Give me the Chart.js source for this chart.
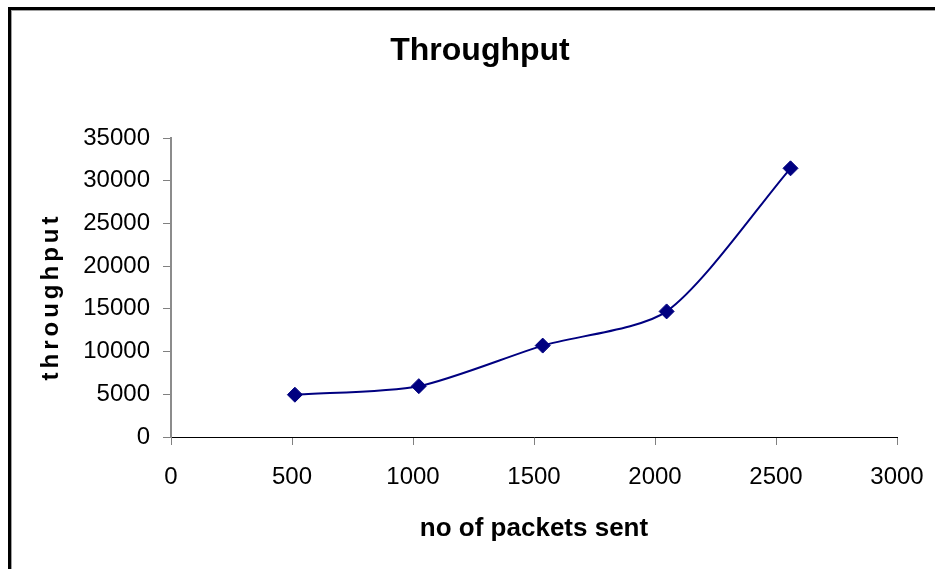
<!DOCTYPE html>
<html><head><meta charset="utf-8">
<script src="https://cdn.jsdelivr.net/npm/chart.js@4.4.1/dist/chart.umd.min.js"></script>
<style>
html,body{margin:0;padding:0;background:#fff;}
#wrap{position:relative;width:935px;height:569px;overflow:hidden;background:#fff;}
#frame{position:absolute;left:8px;top:7px;width:1000px;height:1000px;border-left:3px solid #000;border-top:3px solid #000;box-shadow:inset 1px 1px 0 #a0a0a0;pointer-events:none;}
canvas{position:absolute;left:0;top:0;}
</style></head><body>
<div id="wrap"><canvas id="c" width="935" height="569"></canvas><div id="frame"></div></div>
<script>
const packetsSent = [512, 1024, 1536, 2048, 2560];
const throughput = [4950, 5950, 10700, 14700, 31450];
const xTicks = [0, 500, 1000, 1500, 2000, 2500, 3000];
const yTicks = [0, 5000, 10000, 15000, 20000, 25000, 30000, 35000];

const ySpacing = {
  id: 'ySpacing',
  beforeDraw(chart) {
    const s = chart.scales.y;
    if (s && !s._patched) {
      const orig = s.drawTitle;
      s.drawTitle = function () {
        const ctx = this.ctx;
        ctx.save();
        try { ctx.letterSpacing = '4px'; } catch (e) {}
        ctx.translate(0, 9);
        orig.call(this);
        ctx.restore();
      };
      s._patched = true;
    }
  }
};

const tickFont = {family: 'Liberation Sans, Arial, sans-serif', size: 24};

new Chart(document.getElementById('c'), {
  type: 'line',
  data: {
    datasets: [{
      label: 'throughput',
      data: packetsSent.map((x, i) => ({x: x, y: throughput[i]})),
      borderColor: '#000080',
      backgroundColor: '#000080',
      borderWidth: 2,
      pointStyle: 'rectRot',
      pointRadius: 7.5,
      pointBorderWidth: 1,
      tension: 0.25,
      fill: false
    }]
  },
  options: {
    responsive: false,
    animation: false,
    layout: {padding: {left: 63, right: 38, top: 0, bottom: 0}},
    plugins: {
      legend: {display: false},
      tooltip: {enabled: false},
      title: {
        display: true,
        text: 'Throughput',
        color: '#000',
        font: {family: 'Liberation Sans, Arial, sans-serif', size: 32, weight: 'bold', lineHeight: 1.2},
        padding: {top: 32, bottom: 67.6}
      }
    },
    scales: {
      x: {
        type: 'linear',
        min: 0, max: 3000,
        afterBuildTicks: s => { s.ticks = xTicks.map(v => ({value: v})); },
        afterFit: s => { s.height = 132; s.paddingLeft = 0; s.paddingRight = 0; },
        grid: {drawOnChartArea: false, drawTicks: true, tickLength: 8, color: '#808080'},
        border: {color: '#000', width: 1},
        ticks: {color: '#000', font: tickFont, padding: 18, maxRotation: 0, autoSkip: false, callback: v => String(v)},
        title: {
          display: true, text: 'no of packets sent', color: '#000',
          font: {family: 'Liberation Sans, Arial, sans-serif', size: 26, weight: 'bold', lineHeight: 1.2},
          padding: {top: 0, bottom: 25}
        }
      },
      y: {
        type: 'linear',
        min: 0, max: 35000,
        afterBuildTicks: s => { s.ticks = yTicks.map(v => ({value: v})); },
        afterFit: s => { s.width = 108; s.paddingTop = 0; s.paddingBottom = 0; },
        grid: {drawOnChartArea: false, drawTicks: true, tickLength: 8, color: '#808080'},
        border: {color: '#8c8c8c', width: 2},
        ticks: {color: '#000', font: tickFont, padding: 13, autoSkip: false, callback: v => String(v)},
        title: {
          display: true, text: 'throughput', color: '#000',
          font: {family: 'Liberation Sans, Arial, sans-serif', size: 24, weight: 'bold', lineHeight: 1.2},
          padding: {top: -26, bottom: 0}
        }
      }
    }
  },
  plugins: [ySpacing]
});
</script>
</body></html>
